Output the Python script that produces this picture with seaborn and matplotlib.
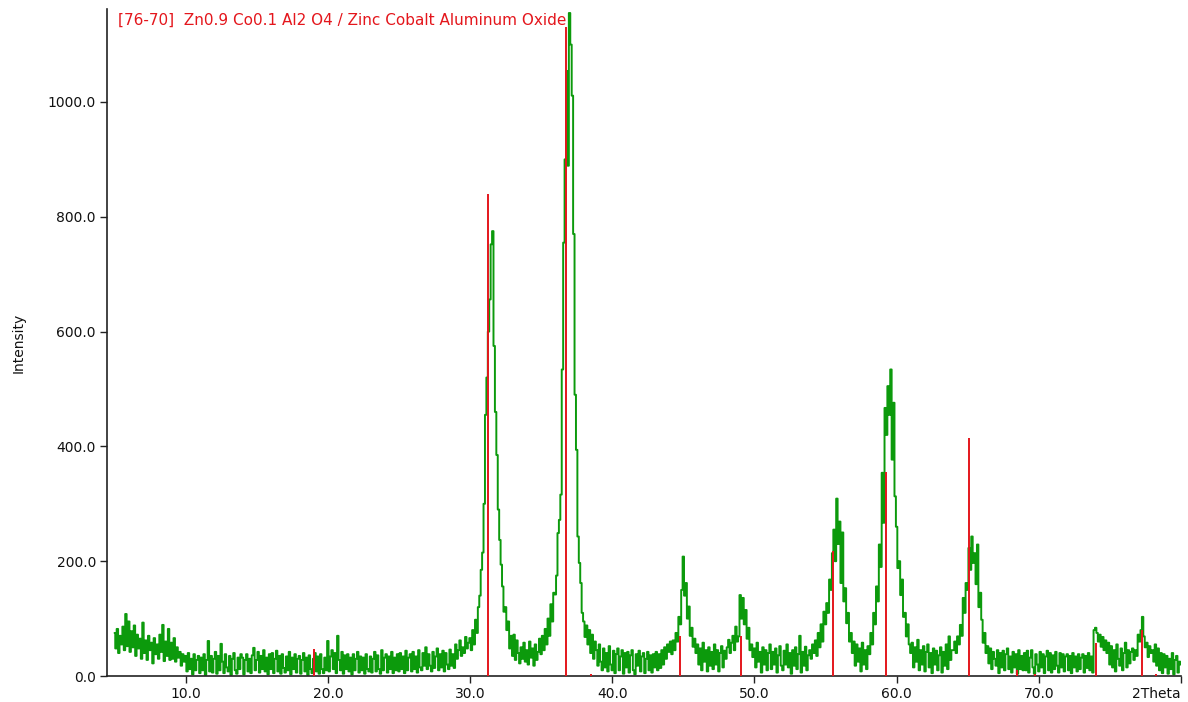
import numpy as np
import matplotlib
matplotlib.use("Agg")
import matplotlib.pyplot as plt
import seaborn as sns

# ---- data ----
scan_start = 5.0   # first 2Theta of the scan
scan_step = 0.1    # 2Theta step of the scan

intensity = [
    75, 48, 82, 40, 70, 55, 86, 45, 108, 52,     # 5
    95, 42, 78, 50, 88, 35, 72, 48, 65, 30,      # 6
    93, 40, 62, 28, 70, 45, 58, 22, 66, 38,      # 7
    55, 30, 72, 42, 89, 26, 60, 35, 82, 28,      # 8
    58, 30, 66, 25, 50, 32, 42, 18, 38, 25,      # 9
    35, 8, 40, 12, 30, 3, 38, 10, 28, 35,        # 10
    5, 32, 10, 38, 2, 28, 61, 8, 35, 6,          # 11
    30, 42, 4, 35, 10, 56, 25, 5, 38, 15,        # 12
    8, 35, 2, 30, 40, 10, 4, 32, 12, 38,         # 13
    32, 3, 28, 38, 8, 30, 5, 36, 49, 10,         # 14
    28, 42, 6, 35, 12, 45, 8, 32, 3, 38,         # 15
    12, 40, 5, 30, 44, 8, 35, 4, 38, 14,         # 16
    6, 34, 10, 42, 3, 32, 12, 38, 6, 30,         # 17
    35, 4, 28, 40, 8, 32, 2, 36, 12, 5,          # 18
    30, 40, 8, 34, 4, 38, 12, 5, 32, 10,         # 19
    61, 8, 34, 45, 12, 40, 5, 70, 28, 10,        # 20
    42, 4, 36, 12, 38, 8, 32, 3, 38, 10,         # 21
    30, 42, 6, 34, 10, 32, 4, 38, 12, 8,         # 22
    34, 6, 30, 42, 8, 36, 12, 4, 45, 10,         # 23
    32, 38, 6, 34, 12, 42, 5, 32, 10, 38,        # 24
    8, 40, 12, 34, 5, 44, 10, 32, 38, 8,         # 25
    42, 12, 34, 6, 45, 15, 10, 40, 18, 50,       # 26
    12, 38, 18, 8, 42, 14, 34, 48, 10, 38,       # 27
    15, 44, 8, 40, 20, 12, 46, 18, 38, 14,       # 28
    55, 30, 45, 62, 35, 50, 40, 68, 48, 58,      # 29
    66, 45, 80, 55, 98, 75, 120, 140, 185, 215,  # 30
    300, 455, 520, 600, 656, 752, 775, 575, 460, 385,   # 31
    290, 237, 194, 156, 112, 120, 80, 95, 48, 70,       # 32
    35, 72, 28, 62, 40, 22, 50, 30, 58, 25,      # 33
    45, 20, 60, 32, 48, 18, 55, 28, 42, 65,      # 34
    38, 70, 45, 82, 55, 100, 70, 125, 95, 145,   # 35
    142, 175, 249, 272, 316, 534, 755, 900, 1054, 889,  # 36
    1155, 1100, 1011, 770, 490, 394, 243, 197, 162, 110,  # 37
    95, 68, 88, 55, 80, 40, 72, 30, 60, 45,      # 38
    18, 55, 25, 10, 48, 15, 40, 8, 52, 20,       # 39
    10, 44, 5, 38, 48, 10, 34, 45, 4, 40,        # 40
    15, 42, 6, 36, 45, 10, 3, 38, 18, 44,        # 41
    8, 34, 40, 5, 30, 42, 10, 36, 6, 38,         # 42
    15, 42, 10, 38, 14, 45, 20, 50, 30, 55,      # 43
    42, 60, 38, 62, 45, 75, 60, 103, 90, 150,    # 44
    208, 140, 162, 100, 121, 70, 84, 51, 65, 40, # 45
    55, 20, 48, 10, 58, 25, 45, 8, 50, 18,       # 46
    42, 12, 55, 20, 45, 8, 40, 52, 15, 44,       # 47
    30, 50, 63, 40, 58, 70, 45, 86, 60, 69,      # 48
    141, 100, 136, 90, 115, 65, 84, 45, 55, 33,  # 49
    48, 15, 58, 25, 42, 6, 50, 20, 45, 10,       # 50
    40, 55, 12, 42, 20, 48, 6, 36, 52, 18,       # 51
    10, 44, 20, 55, 15, 40, 4, 45, 18, 50,       # 52
    12, 38, 70, 6, 42, 18, 51, 10, 36, 45,       # 53
    30, 55, 40, 62, 35, 75, 50, 90, 60, 112,     # 54
    90, 127, 110, 168, 150, 214, 255, 200, 309, 230,  # 55
    269, 162, 250, 130, 153, 92, 110, 60, 75, 40,     # 56
    60, 18, 55, 25, 48, 8, 58, 20, 45, 12,       # 57
    52, 38, 75, 55, 110, 90, 156, 130, 229, 190,      # 58
    354, 267, 467, 420, 505, 455, 534, 377, 476, 313, # 59
    260, 188, 200, 141, 168, 103, 110, 69, 90, 55,    # 60
    40, 58, 15, 50, 25, 63, 10, 45, 20, 52,      # 61
    8, 42, 55, 15, 40, 5, 48, 20, 44, 10,        # 62
    36, 50, 6, 42, 18, 55, 12, 69, 28, 45,       # 63
    45, 60, 40, 69, 55, 89, 70, 136, 110, 162,   # 64
    150, 223, 185, 243, 197, 214, 160, 229, 120, 145, # 65
    98, 58, 75, 40, 52, 22, 48, 12, 42, 30,      # 66
    18, 45, 5, 40, 15, 44, 10, 38, 48, 12,       # 67
    34, 6, 42, 15, 38, 4, 45, 12, 35, 10,        # 68
    40, 10, 44, 6, 32, 45, 15, 4, 38, 20,        # 69
    8, 42, 15, 38, 5, 34, 44, 10, 40, 6,         # 70
    36, 12, 42, 18, 6, 40, 15, 38, 8, 34,        # 71
    38, 10, 35, 5, 40, 15, 34, 8, 38, 12,        # 72
    32, 38, 6, 35, 14, 40, 10, 34, 6, 80,        # 73
    84, 75, 60, 72, 51, 68, 45, 62, 40, 58,      # 74
    20, 52, 15, 45, 8, 55, 30, 18, 48, 10,       # 75
    40, 58, 15, 45, 22, 42, 48, 28, 45, 35,      # 76
    72, 60, 80, 103, 69, 50, 58, 33, 52, 40,     # 77
    45, 25, 55, 18, 48, 10, 40, 5, 38, 15,       # 78
    35, 4, 30, 12, 40, 3, 28, 35, 6, 25,         # 79
    20,                                          # 80
]

# reference pattern [76-70] Zn0.9 Co0.1 Al2 O4
ref_pos = [19.0, 31.27, 36.75, 38.48, 44.76, 49.03, 55.53, 59.26, 65.1,
           68.49, 69.7, 74.0, 77.25, 78.26]
ref_int = [47, 840, 1130, 3, 70, 69, 217, 356, 415, 10, 3, 58, 81, 3]

x_ticks = [10, 20, 30, 40, 50, 60, 70, 80]
x_tick_labels = ["10.0", "20.0", "30.0", "40.0", "50.0", "60.0", "70.0", "2Theta"]
y_ticks = [0, 200, 400, 600, 800, 1000]
y_tick_labels = ["0.0", "200.0", "400.0", "600.0", "800.0", "1000.0"]
title_text = "[76-70]  Zn0.9 Co0.1 Al2 O4 / Zinc Cobalt Aluminum Oxide"
y_label = "Intensity"

# ---- drawing ----
sns.set_style("ticks")
plt.rcParams["font.family"] = ["DejaVu Sans"]

two_theta = np.round(scan_start + scan_step * np.arange(len(intensity)), 2)

W, H = 1188, 702
fig = plt.figure(figsize=(W / 100, H / 100), dpi=100)
ax = fig.add_axes([107 / W, 26 / H, (1181 - 107) / W, (676 - 9) / H])

GREEN = "#0c9a0c"
RED = "#e4161c"

sns.lineplot(x=two_theta, y=intensity, ax=ax, color=GREEN, lw=1.4,
             drawstyle="steps-mid", estimator=None)
ax.vlines(ref_pos, 0, ref_int, color=RED, lw=1.4, zorder=3)

ax.set_xlim(4.47, 80)
ax.set_ylim(0, 1162)
ax.set_xticks(x_ticks)
ax.set_xticklabels(x_tick_labels)
ax.get_xticklabels()[-1].set_horizontalalignment("right")
ax.set_yticks(y_ticks)
ax.set_yticklabels(y_tick_labels)
ax.tick_params(axis="both", direction="out", length=5, width=1.0,
               color="#222222", labelsize=10, labelcolor="#111111", pad=3)
for side in ["top", "right"]:
    ax.spines[side].set_visible(False)
for side in ["left", "bottom"]:
    ax.spines[side].set_color("#222222")
    ax.spines[side].set_linewidth(1.2)

ax.set_xlabel("")
ax.set_ylabel(y_label, fontsize=10, color="#111111", labelpad=16)
ax.text(0.0102, 0.9835, title_text, transform=ax.transAxes, color=RED,
        fontsize=11, ha="left", va="center")

fig.savefig("out.png", dpi=100)
